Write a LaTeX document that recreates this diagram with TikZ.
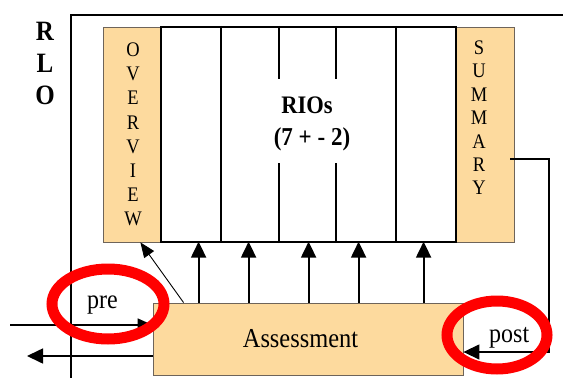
\documentclass[tikz,border=0pt]{standalone}
\usepackage{fontspec}
\setmainfont{Liberation Serif}
\usepackage{graphicx}
\usetikzlibrary{arrows.meta}
\definecolor{boxfill}{RGB}{253,218,158}
\definecolor{boxedge}{RGB}{110,100,90}
\definecolor{ringred}{RGB}{255,0,0}
\newcommand{\vstr}[1]{\scalebox{1}[1.12]{#1}}
\begin{document}
\begin{tikzpicture}[x=1pt,y=-1pt,
  uptip/.style={-{Triangle[length=16pt,width=15pt]}},
  frameline/.style={line width=1.8pt},
  orangebox/.style={draw=boxedge, line width=0.8pt, fill=boxfill, inner sep=0pt},
  colline/.style={line width=2.4pt},
  letter/.style={inner sep=0pt, font=\fontsize{18.5}{19}\selectfont},
  bigletter/.style={inner sep=0pt, font=\fontsize{25}{26}\selectfont\bfseries},
  lbl/.style={inner sep=0pt, font=\fontsize{24}{26}\selectfont, anchor=base west},
  ring/.style={draw=ringred, line width=11pt}]
\useasboundingbox (0,0) rectangle (563,378);

% RLO frame
\coordinate (rlo) at (71,15);
\coordinate (rlotr) at (563,15);
\coordinate (rlobl) at (71,378);
\draw[frameline] (rlotr) -- (rlo) -- (rlobl);
\node[bigletter] (r1) at (45,31) {\vstr{R}};
\node[bigletter] (r2) at (45,63) {\vstr{L}};
\node[bigletter] (r3) at (45,95) {\vstr{O}};

% side boxes
\node[orangebox, minimum width=58pt, minimum height=215pt] (ov) at (132,134.5) {};
\node[orangebox, minimum width=58pt, minimum height=215pt] (sum) at (485,134.5) {};
\foreach \l [count=\i from 0] in {O,V,E,R,V,I,E,W}
  \node[letter] (ovl\i) at (133,{50+24.1*\i}) {\vstr{\l}};
\foreach \l [count=\i from 0] in {S,U,M,M,A,R,Y}
  \node[letter] (suml\i) at (479,{48+23.3*\i}) {\vstr{\l}};

% RIO columns
\node[draw, colline, minimum width=295pt, minimum height=215pt, inner sep=0pt] (rios) at (308.5,134.5) {};
\foreach \dx in {61,236}
  \draw[colline] ([xshift=\dx pt]rios.north west) -- ([xshift=\dx pt]rios.south west);
\foreach \dx in {119,176} {
  \draw[colline] ([xshift=\dx pt]rios.north west) -- ([xshift=\dx pt, yshift=-53pt]rios.north west);
  \draw[colline] ([xshift=\dx pt]rios.south west) -- ([xshift=\dx pt, yshift=80pt]rios.south west);
}
\node[inner sep=0pt, anchor=base, font=\fontsize{22.5}{24}\selectfont\bfseries] (riot) at (307,113) {\vstr{RIOs}};
\node[inner sep=0pt, anchor=base, font=\fontsize{23}{24}\selectfont\bfseries] (rion) at (312,145) {\vstr{(7 + - 2)}};

% Assessment
\node[orangebox, minimum width=310pt, minimum height=72pt] (assess) at (308,339) {};
\node[inner sep=0pt, anchor=base, font=\fontsize{24.4}{26}\selectfont] (assesst) at (300.5,347) {\vstr{Assessment}};

% arrows from assessment up to the columns
\foreach \dx in {46,96,156,206,271}
  \draw[uptip, line width=1.8pt] ([xshift=\dx pt]assess.north west) -- ([xshift=\dx pt, yshift=61pt]assess.north west);
\draw[-{Triangle[length=15pt,width=12pt]}, line width=0.9pt] ([xshift=31pt]assess.north west) -- ([xshift=-21pt]ov.south east);

% pre / out arrows
\coordinate (prein) at (10,325);
\coordinate (outend) at (27,356);
\draw[-{Triangle[length=15pt,width=13pt]}, line width=1.6pt] (prein) -- (prein -| assess.west);
\draw[uptip, line width=1.6pt] (assess.west |- outend) -- (outend);
\node[lbl] (pre) at (87,308) {\vstr{pre}};

% post connector
\coordinate (pc) at (549,159);
\coordinate (pb) at (549,352);
\draw[uptip, line width=1.4pt] ([xshift=-4pt]sum.east |- pc) -- (pc) -- (pb) -- (assess.east |- pb);
\node[lbl] (post) at (489,342) {\vstr{post}};

% red rings
\draw[ring] (108,304) ellipse [x radius=56pt, y radius=35pt];
\draw[ring] (497,335) ellipse [x radius=50pt, y radius=34pt];
\end{tikzpicture}
\end{document}
